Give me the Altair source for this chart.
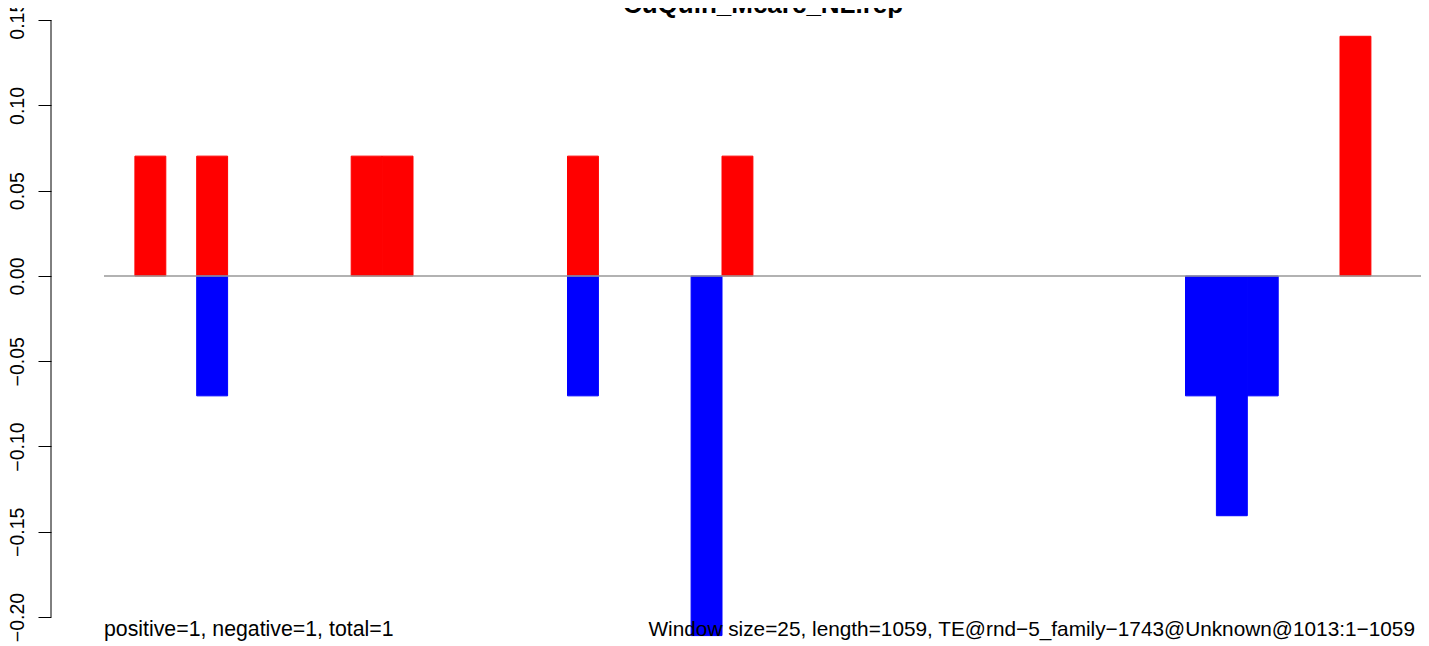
import altair as alt
import pandas as pd

# ---- data ----
window_size = 25
seq_length = 1059

pos_windows = [1, 3, 8, 9, 15, 20, 40]
pos_values = [0.0703, 0.0703, 0.0703, 0.0703, 0.0703, 0.0703, 0.1406]

neg_windows = [3, 15, 19, 35, 36, 37]
neg_values = [-0.0703, -0.0703, -0.2109, -0.0703, -0.1406, -0.0703]

y_ticks = [-0.20, -0.15, -0.10, -0.05, 0.00, 0.05, 0.10, 0.15]

title_text = "CuQuin_Mcarc_NL.rep"
left_note = "positive=1, negative=1, total=1"
right_note = "Window size=25, length=1059, TE@rnd\u22125_family\u22121743@Unknown@1013:1\u22121059"

# ---- tables ----
bars = pd.DataFrame(
    [{"start": w * window_size, "end": (w + 1) * window_size, "zero": 0.0, "value": v, "sign": "positive"}
     for w, v in zip(pos_windows, pos_values)]
    + [{"start": w * window_size, "end": (w + 1) * window_size, "zero": 0.0, "value": v, "sign": "negative"}
       for w, v in zip(neg_windows, neg_values)]
)

X_MIN, X_MAX = -42.88, 1065.53
Y_MIN, Y_MAX = -0.21701, 0.15718
FONT = "Liberation Sans"

xs = alt.Scale(domain=[X_MIN, X_MAX], nice=False, zero=False)
ys = alt.Scale(domain=[Y_MIN, Y_MAX], nice=False, zero=False)

y_axis = alt.Axis(values=y_ticks, format=".2f", domain=False, grid=False,
                  ticks=True, tickSize=13, tickColor="black", tickWidth=1,
                  labelAngle=270, labelAlign="center", labelBaseline="alphabetic",
                  labelPadding=15, labelFont=FONT, labelFontSize=19.5,
                  labelColor="black", labelOverlap=False, labelFlush=False,
                  title=None)

sign_scale = alt.Scale(domain=["positive", "negative"], range=["#FF0000", "#0000FF"])

bar_layer = alt.Chart(bars).mark_rect(clip=True, strokeWidth=1).encode(
    x=alt.X("start:Q", scale=xs, axis=None),
    x2="end:Q",
    y=alt.Y("zero:Q", scale=ys, axis=y_axis),
    y2="value:Q",
    color=alt.Color("sign:N", scale=sign_scale, legend=None),
    stroke=alt.Stroke("sign:N", scale=sign_scale, legend=None),
)

baseline_df = pd.DataFrame({"x0": [0], "x1": [(seq_length // window_size + 1) * window_size], "y": [0.0]})
baseline = alt.Chart(baseline_df).mark_rule(
    color="#999999", strokeWidth=1.5, clip=True
).encode(x=alt.X("x0:Q", scale=xs, axis=None), x2="x1:Q",
         y=alt.Y("y:Q", scale=ys, axis=y_axis))

axis_df = pd.DataFrame({"x": [X_MIN], "y0": [y_ticks[0]], "y1": [y_ticks[-1]]})
axis_line = alt.Chart(axis_df).mark_rule(color="black", strokeWidth=1).encode(
    x=alt.X("x:Q", scale=xs, axis=None),
    y=alt.Y("y0:Q", scale=ys, axis=y_axis), y2="y1:Q")

texts = pd.DataFrame({
    "x": [0, 440.5, 533.2],
    "y": [-0.2111, -0.2111, 0.1543],
    "label": [left_note, right_note, title_text],
    "kind": ["note", "note2", "title"],
})

note_left = alt.Chart(texts[texts.kind == "note"]).mark_text(
    align="left", baseline="alphabetic", font=FONT, fontSize=21.3, color="black"
).encode(x=alt.X("x:Q", scale=xs, axis=None),
         y=alt.Y("y:Q", scale=ys, axis=y_axis), text="label:N")

note_right = alt.Chart(texts[texts.kind == "note2"]).mark_text(
    align="left", baseline="alphabetic", font=FONT, fontSize=20.8, color="black"
).encode(x=alt.X("x:Q", scale=xs, axis=None),
         y=alt.Y("y:Q", scale=ys, axis=y_axis), text="label:N")

title = alt.Chart(texts[texts.kind == "title"]).mark_text(
    align="center", baseline="alphabetic", font=FONT, fontSize=26, fontWeight="bold", color="black"
).encode(x=alt.X("x:Q", scale=xs, axis=None),
         y=alt.Y("y:Q", scale=ys, axis=y_axis), text="label:N")

chart = alt.layer(bar_layer, baseline, axis_line, note_left, note_right, title).properties(
    width=1370,
    height=638,
    autosize=alt.AutoSizeParams(type="none"),
    padding={"left": 43, "top": 0, "right": 0, "bottom": 0},
    background="white",
).configure_view(stroke=None)

chart.save("out.html", embed_options={"renderer": "svg", "actions": False})
